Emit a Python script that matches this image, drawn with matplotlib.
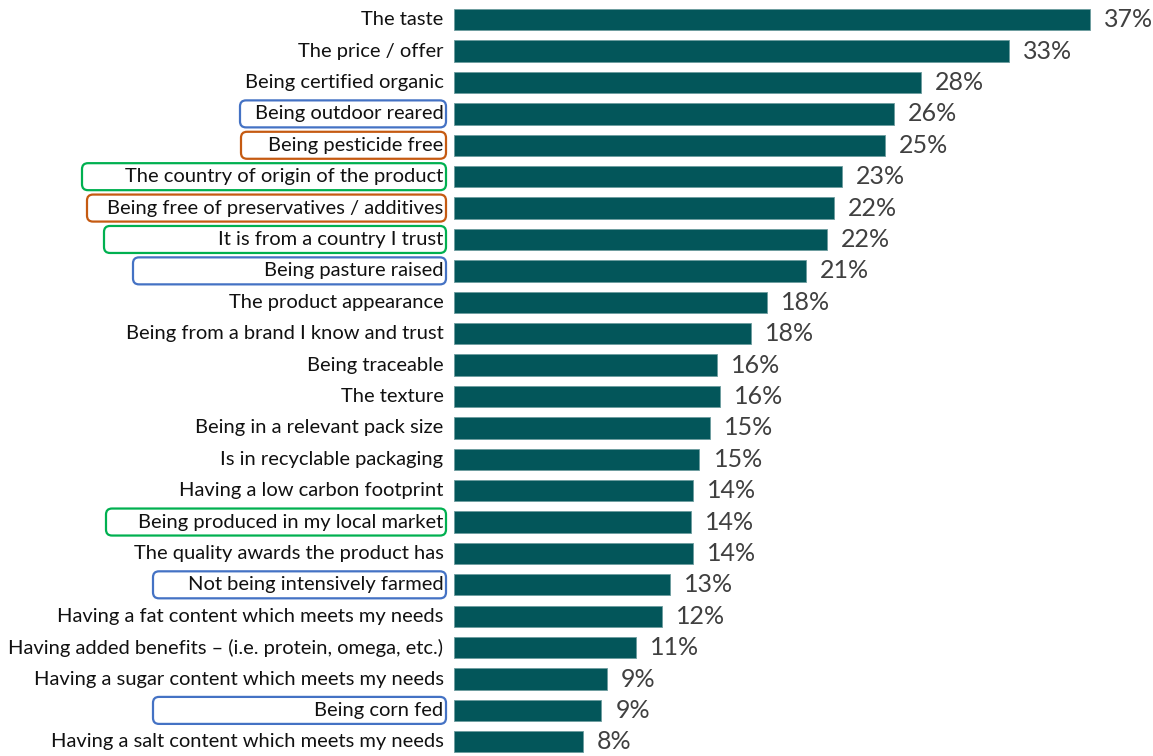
import matplotlib
matplotlib.use("Agg")
import matplotlib.pyplot as plt
from matplotlib.patches import FancyBboxPatch

# attributes, top to bottom
labels = ["The taste", "The price / offer", "Being certified organic",
          "Being outdoor reared", "Being pesticide free",
          "The country of origin of the product",
          "Being free of preservatives / additives",
          "It is from a country I trust", "Being pasture raised",
          "The product appearance", "Being from a brand I know and trust",
          "Being traceable", "The texture", "Being in a relevant pack size",
          "Is in recyclable packaging", "Having a low carbon footprint",
          "Being produced in my local market",
          "The quality awards the product has", "Not being intensively farmed",
          "Having a fat content which meets my needs",
          "Having added benefits \u2013 (i.e. protein, omega, etc.)",
          "Having a sugar content which meets my needs", "Being corn fed",
          "Having a salt content which meets my needs"]
values = [37.0, 32.3, 27.2, 25.6, 25.1, 22.6, 22.1, 21.7, 20.5, 18.2, 17.3,
          15.3, 15.5, 14.9, 14.3, 13.9, 13.8, 13.9, 12.6, 12.1, 10.6, 8.9,
          8.6, 7.5]
shown = ["37%", "33%", "28%", "26%", "25%", "23%", "22%", "22%", "21%", "18%",
         "18%", "16%", "16%", "15%", "15%", "14%", "14%", "14%", "13%", "12%",
         "11%", "9%", "9%", "8%"]

# highlighted groups: animal welfare (blue), clean (orange), origin (green)
groups = {"Being outdoor reared": "welfare", "Being pesticide free": "clean",
          "The country of origin of the product": "origin",
          "Being free of preservatives / additives": "clean",
          "It is from a country I trust": "origin",
          "Being pasture raised": "welfare",
          "Being produced in my local market": "origin",
          "Not being intensively farmed": "welfare",
          "Being corn fed": "welfare"}
group_colors = {"welfare": "#4472C4", "clean": "#C55A11", "origin": "#00B050"}
# left edge of each box in pixels
box_left = {"Being outdoor reared": 240, "Being pesticide free": 241,
            "The country of origin of the product": 82,
            "Being free of preservatives / additives": 87,
            "It is from a country I trust": 104,
            "Being pasture raised": 133,
            "Being produced in my local market": 106,
            "Not being intensively farmed": 153, "Being corn fed": 153}

W, H = 1153, 756
fig = plt.figure(figsize=(W / 100, H / 100), dpi=100)
ax = fig.add_axes([453.5 / W, 1 - 757.5 / H, 688 / W, (757.5 - 4) / H])

y = list(range(len(labels)))
ax.barh(y, values, height=0.68, color="#03565A", edgecolor="#6c9c9e", linewidth=0.6)
ax.set_xlim(0, 40)
ax.set_ylim(len(labels) - 0.5, -0.5)
ax.axis("off")

for i, (v, s) in enumerate(zip(values, shown)):
    ax.annotate(s, (v, i), xytext=(14, 0), textcoords="offset pixels",
                va="center", ha="left", fontsize=18, color="#404040",
                family="Lato", annotation_clip=False)

for i, lab in enumerate(labels):
    ax.annotate(lab, (0, i), xytext=(-10, 0), textcoords="offset pixels",
                va="center", ha="right", fontsize=14.5, color="#111111",
                family="Lato", annotation_clip=False)
    if lab in groups:
        yc = ax.transData.transform((0, i))[1]
        x0 = box_left[lab]
        x1 = 446
        bh = 27
        box = FancyBboxPatch((x0, yc - bh / 2), x1 - x0, bh,
                             boxstyle="round,pad=0,rounding_size=6",
                             fill=False, linewidth=1.6,
                             edgecolor=group_colors[groups[lab]],
                             transform=None)
        fig.add_artist(box)

fig.savefig("out.png", dpi=100)
